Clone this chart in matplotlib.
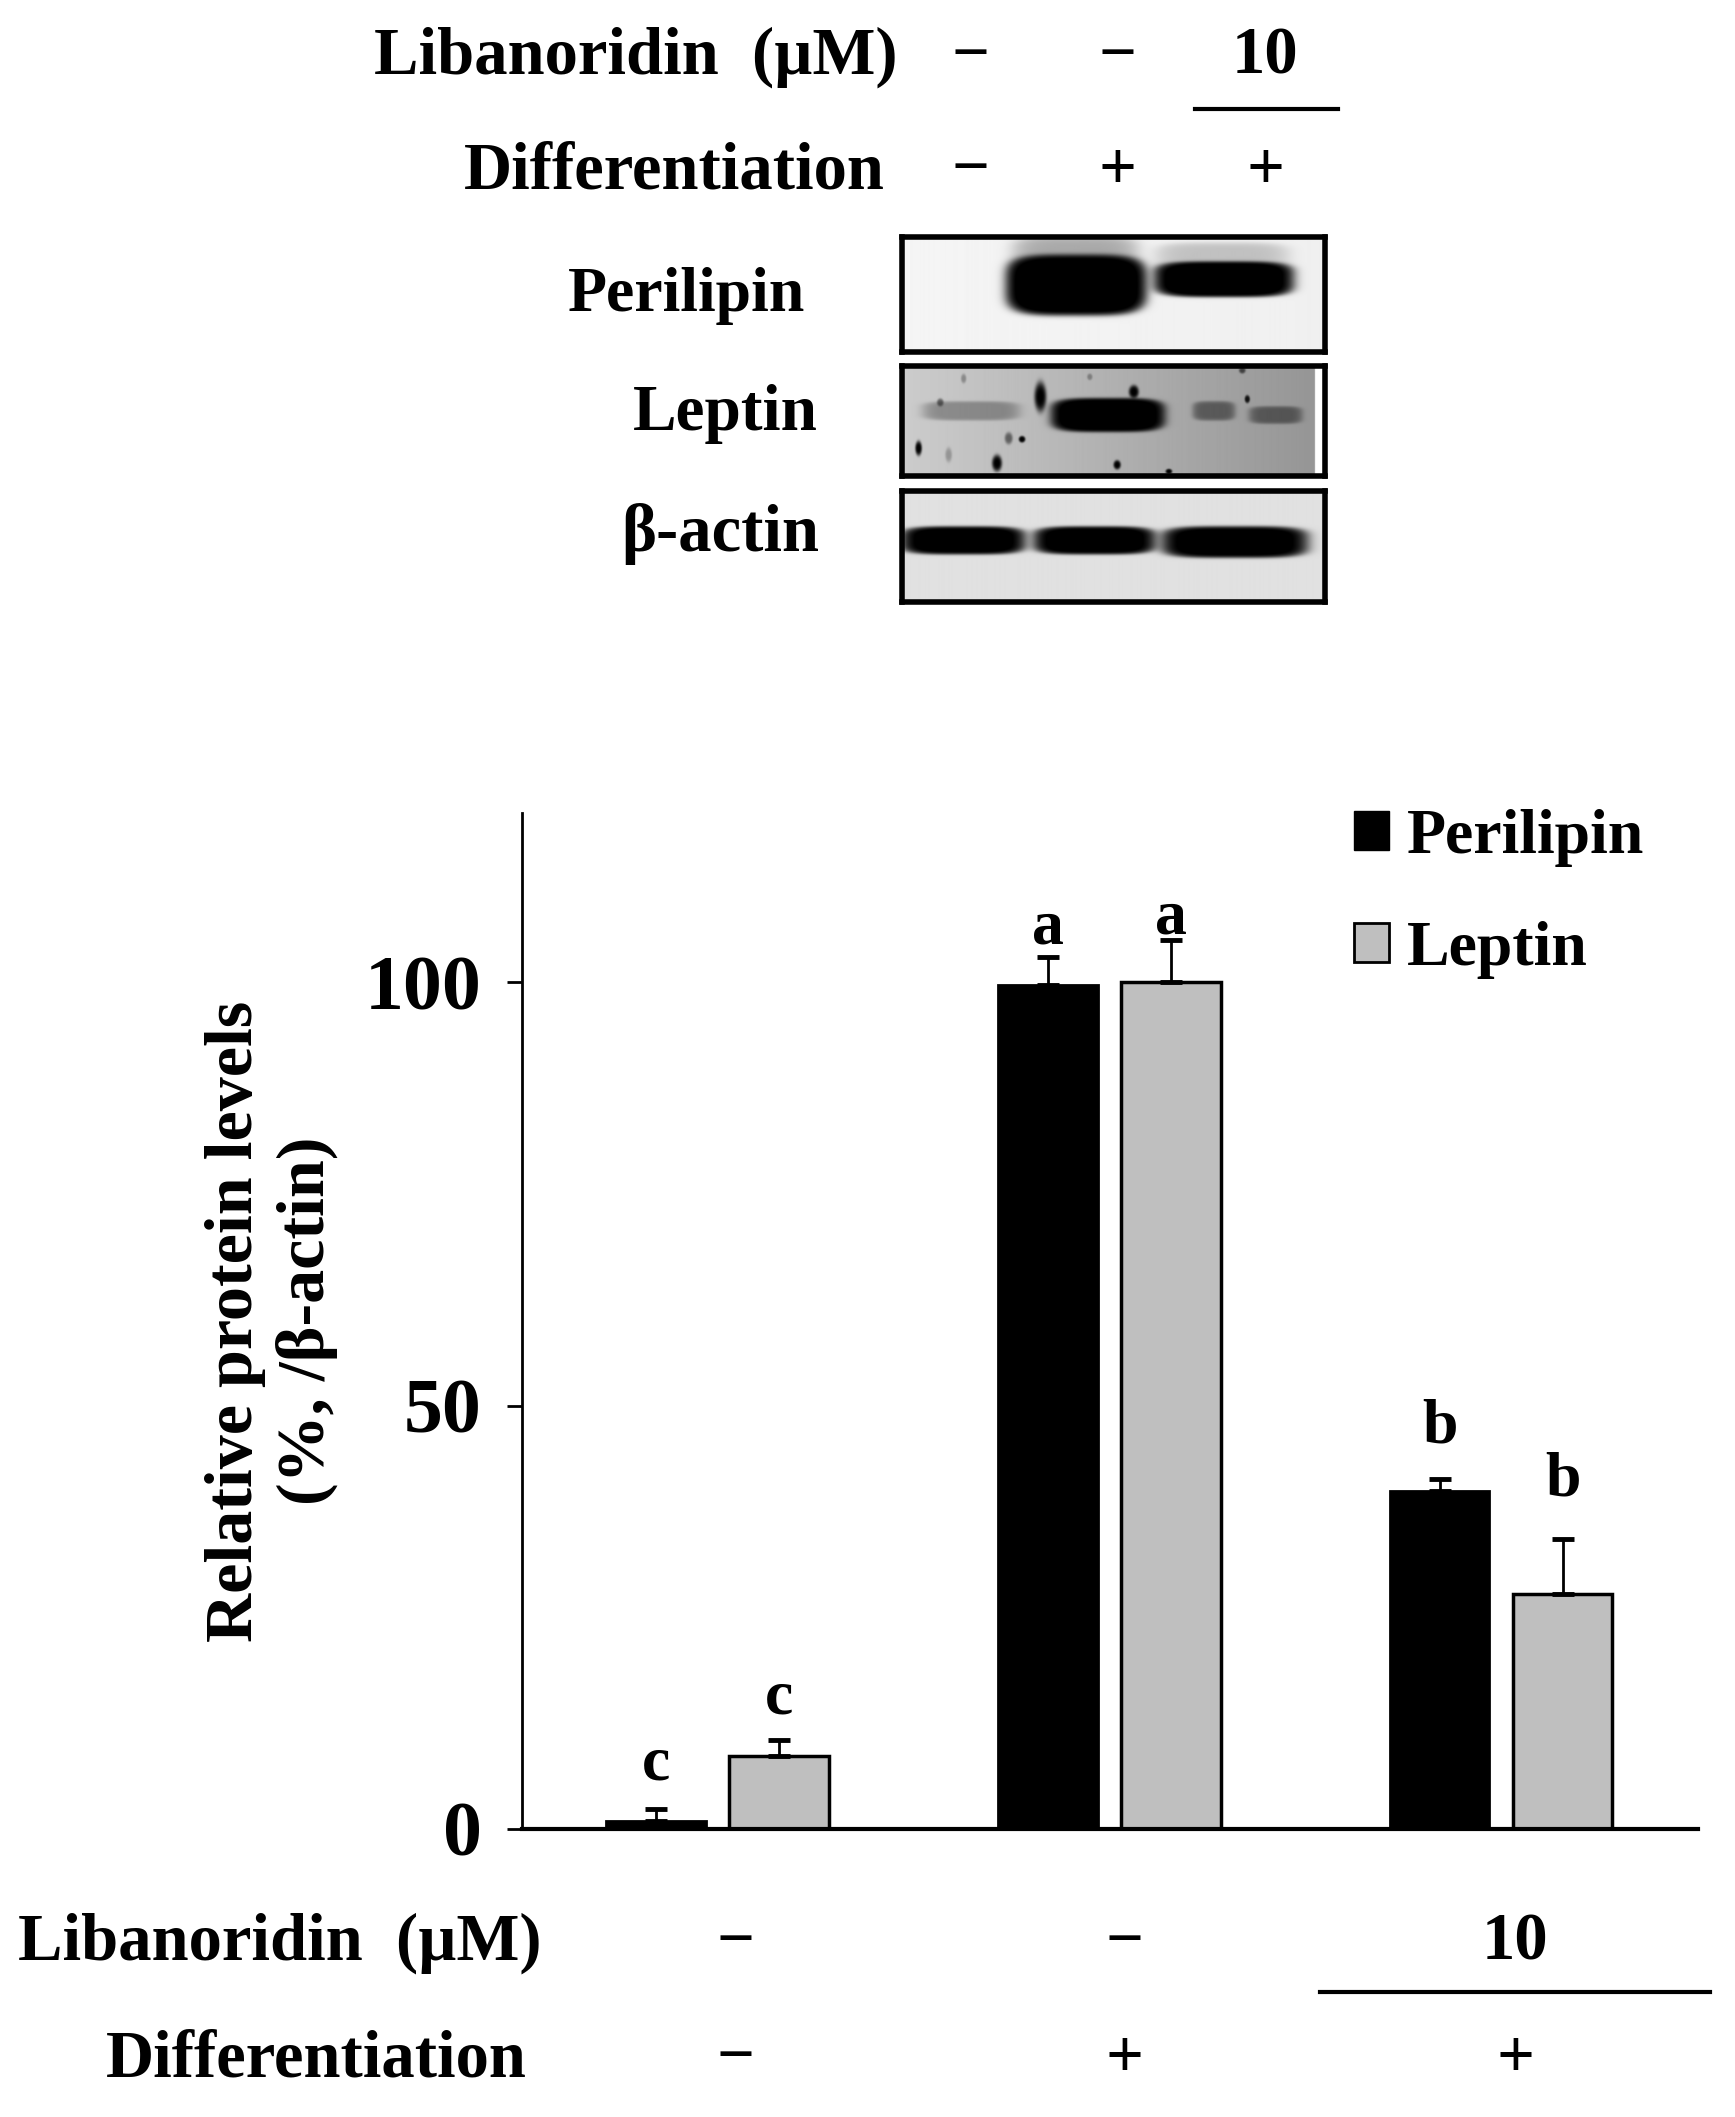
import matplotlib as mpl
mpl.use('Agg')
import matplotlib.pyplot as plt
from matplotlib.patches import Patch
import numpy as np

W, H = 1735, 2117

plt.rcParams['font.family'] = ['Liberation Serif', 'DejaVu Serif']
plt.rcParams['font.weight'] = 'bold'

perilipin = [1.0, 99.7, 39.9]
leptin = [8.6, 100.0, 27.7]
perilipin_err = [1.4, 3.3, 1.4]
leptin_err = [1.9, 5.0, 6.6]
perilipin_letters = ['c', 'a', 'b']
leptin_letters = ['c', 'a', 'b']
perilipin_letter_y = [5.8, 104.6, 45.6]
leptin_letter_y = [13.6, 105.8, 39.4]
y_ticks = [0, 50, 100]

libanoridin = ['\u2212', '\u2212', '10']
differentiation = ['\u2212', '+', '+']

# blot bands: x0, x1, y0, y1, darkness, blur (zoomed crop pixels)
perilipin_bands = [(470, 885, 165, 345, 1.0, 0.22), (915, 1325, 185, 290, 1.0, 0.25),
                   (500, 850, 110, 220, 0.3, 0.5), (930, 1300, 130, 220, 0.2, 0.5)]
leptin_bands = [(605, 940, 595, 695, 1.0, 0.25), (225, 500, 605, 660, 0.3, 0.4),
                (1030, 1150, 605, 660, 0.45, 0.45), (1200, 1350, 620, 670, 0.45, 0.45)]
actin_bands = [(160, 520, 980, 1062, 1.0, 0.3), (555, 910, 980, 1062, 1.0, 0.3),
               (940, 1365, 980, 1072, 1.0, 0.3)]
# blot specks: x, y, rx, ry, darkness
leptin_spots = [(570, 590, 18, 45, 1.0), (205, 745, 10, 22, 1.0), (440, 790, 15, 25, 1.0),
                (800, 795, 11, 14, 1.0), (515, 718, 10, 10, 1.0), (475, 715, 12, 18, 0.5),
                (270, 607, 10, 12, 0.5), (340, 535, 8, 14, 0.3), (850, 575, 15, 20, 1.0),
                (1190, 597, 8, 12, 0.9), (955, 815, 10, 8, 1.0), (718, 530, 8, 10, 0.3),
                (295, 765, 10, 22, 0.25), (1175, 510, 10, 10, 0.6)]


def px(x, y):
    return x / W, 1 - y / H


def label(x, y, s, size=48, ha='center'):
    fig.text(*px(x, y), s, fontsize=size, ha=ha, va='center', fontweight='bold', color='black')


def blot(box, bands, spots, bg_left, bg_right, white_from=None):
    # box in full-size pixels, crop coords go (850, 200) at scale 3
    x0, x1, y0, y1 = box
    ax = fig.add_axes([x0 / W, 1 - y1 / H, (x1 - x0) / W, (y1 - y0) / H])
    xs = np.linspace((x0 - 850) * 3, (x1 - 850) * 3, (x1 - x0) * 2)
    ys = np.linspace((y0 - 200) * 3, (y1 - 200) * 3, (y1 - y0) * 2)
    X, Y = np.meshgrid(xs, ys)
    img = bg_left + (bg_right - bg_left) * np.clip((X - xs[0]) / (xs[-1] - xs[0]), 0, 1)
    if white_from is not None:
        img = np.where(X > white_from, 1.0, img)
    for bx0, bx1, by0, by1, dark, blur in bands:
        # rounded band, soft at the edge
        d = (np.abs(X - (bx0 + bx1) / 2) / ((bx1 - bx0) / 2)) ** 4 + (np.abs(Y - (by0 + by1) / 2) / ((by1 - by0) / 2)) ** 4
        a = 1 / (1 + np.exp((d - 1) / blur))
        img = img * (1 - dark * np.clip(a * 1.15, 0, 1))
    for sx0, sy0, rx, ry, dark in spots:
        d = ((X - sx0) / rx) ** 2 + ((Y - sy0) / ry) ** 2
        img = img * (1 - dark * np.exp(-d ** 2))
    ax.imshow(img, cmap='gray', vmin=0, vmax=1, aspect='auto', interpolation='bilinear')
    ax.set_xticks([])
    ax.set_yticks([])
    for s in ax.spines.values():
        s.set_linewidth(4)
    return ax


fig = plt.figure(figsize=(W / 100, H / 100), dpi=100)

# top header
top_x = [970, 1117, 1265]
label(636, 57, 'Libanoridin  (\u00b5M)')
label(674, 172, 'Differentiation')
for xp, a, b in zip(top_x, libanoridin, differentiation):
    label(xp, 57, a)
    label(xp, 172, b)
fig.add_artist(plt.Line2D([1195 / W, 1338 / W], [1 - 109 / H] * 2, color='black', lw=3))

# blots
label(687, 296, 'Perilipin', size=46)
label(725, 414, 'Leptin', size=47)
label(720, 534, '\u03b2-actin', size=48)
blot((902, 1325, 237, 352), perilipin_bands, [], 0.96, 0.94)
blot((902, 1325, 366, 476), leptin_bands, leptin_spots, 0.80, 0.58, white_from=1392)
blot((902, 1325, 491, 602), actin_bands, [], 0.88, 0.88)

# main chart
ax = fig.add_axes([522 / W, 1 - 1829 / H, (1698 - 522) / W, (1829 - 813) / H])
x = np.arange(3)
offset = 0.157
width = 0.255
err_style = dict(ecolor='black', elinewidth=2, capsize=8, capthick=3.5)
zero1 = np.zeros(3)
ax.bar(x - offset, perilipin, width, color='black', edgecolor='black', linewidth=2,
       yerr=[zero1, perilipin_err], error_kw=err_style)
ax.bar(x + offset, leptin, width, color='#bfbfbf', edgecolor='black', linewidth=2.5,
       yerr=[zero1, leptin_err], error_kw=err_style)
for i in x:
    ax.text(i - offset, perilipin_letter_y[i], perilipin_letters[i], fontsize=46, ha='center', va='baseline')
    ax.text(i + offset, leptin_letter_y[i], leptin_letters[i], fontsize=46, ha='center', va='baseline')

ax.set_xlim(-0.5, 2.503)
ax.set_ylim(0, 120)
ax.set_yticks(y_ticks)
ax.set_xticks([])
ax.tick_params(axis='y', length=11, width=2, labelsize=56, pad=18)
ax.spines['top'].set_visible(False)
ax.spines['right'].set_visible(False)
ax.spines['left'].set_linewidth(2)
ax.spines['bottom'].set_linewidth(3)
ax.set_ylabel('Relative protein levels\n(%, /\u03b2-actin)', fontsize=49, fontweight='bold', labelpad=19,
              linespacing=1.2)

handles = [Patch(facecolor='black', edgecolor='black', label='Perilipin'),
           Patch(facecolor='#bfbfbf', edgecolor='black', linewidth=2, label='Leptin')]
ax.legend(handles=handles, loc='upper right', bbox_to_anchor=(0.954, 1.004), frameon=False, fontsize=46,
          handlelength=0.55, handleheight=0.55, handletextpad=0.27, labelspacing=0.85,
          borderpad=0, borderaxespad=0)

# bottom labels
bottom_x = [735, 1124, 1515]
label(280, 1943, 'Libanoridin  (\u00b5M)')
label(316, 2060, 'Differentiation')
for xp, a, b in zip(bottom_x, libanoridin, differentiation):
    label(xp, 1943, a)
    label(xp, 2060, b)
fig.add_artist(plt.Line2D([1320 / W, 1710 / W], [1 - 1992 / H] * 2, color='black', lw=3))

fig.savefig('out.png', dpi=100)
